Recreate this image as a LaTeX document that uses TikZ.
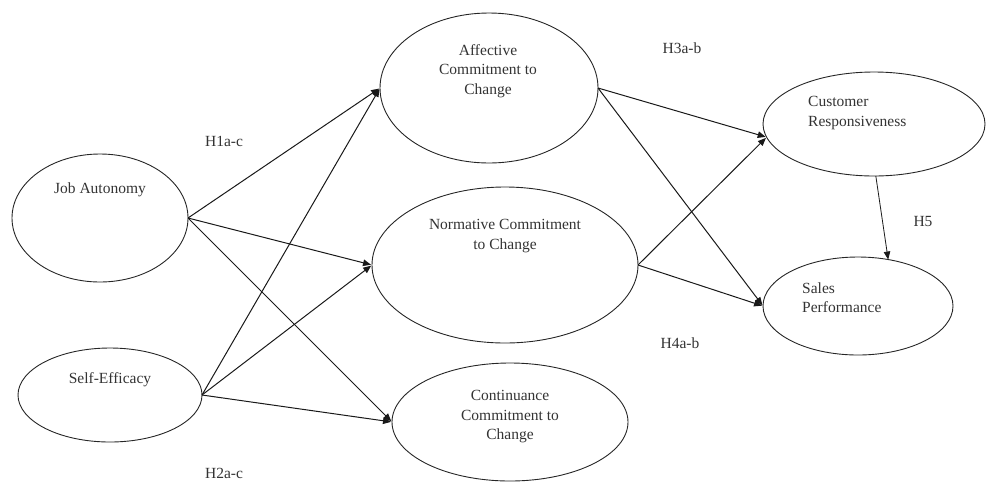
\documentclass[tikz,border=0pt]{standalone}
\usepackage{fontspec}
\setmainfont{Liberation Serif}
\usetikzlibrary{shapes.geometric,arrows.meta}
\begin{document}
\begin{tikzpicture}[x=1pt,y=-1pt,
  oval/.style={ellipse,draw=black!85,line width=0.9pt,inner sep=0pt,outer sep=0pt},
  txt/.style={text=black!80,font=\fontsize{15.5}{19.5}\selectfont,align=center,inner sep=0pt},
  hyp/.style={text=black!80,font=\fontsize{15.5}{19}\selectfont,inner sep=0pt},
  link/.style={draw=black!90,line width=1pt,-{Triangle[length=8pt,width=6.5pt]},shorten >=1pt}
]
\useasboundingbox (0,0) rectangle (987,483);
% ellipses
\node[oval,minimum width=176pt,minimum height=128pt] (ja) at (100,218) {};
\node[oval,minimum width=184pt,minimum height=94pt] (se) at (110,395) {};
\node[oval,minimum width=218pt,minimum height=150pt] (aff) at (489,88) {};
\node[oval,minimum width=266pt,minimum height=156pt] (norm) at (505,265) {};
\node[oval,minimum width=236pt,minimum height=118pt] (cont) at (510,422) {};
\node[oval,minimum width=222pt,minimum height=104pt] (cust) at (874,124) {};
\node[oval,minimum width=190pt,minimum height=98pt] (sales) at (858,306) {};
% texts
\node[txt] (tja) at (100,190) {Job Autonomy};
\node[txt] (tse) at (110,380) {Self-Efficacy};
\node[txt] (taff) at (488,71) {Affective\\Commitment to\\Change};
\node[txt] (tnorm) at (505,236) {Normative Commitment\\to Change};
\node[txt] (tcont) at (510,417) {Continuance\\Commitment to\\Change};
\node[txt,anchor=west,align=left] (tcust) at (808,113) {Customer\\Responsiveness};
\node[txt,anchor=west,align=left] (tsales) at (802,297.5) {Sales\\Performance};
% hypothesis labels
\node[hyp] (h1) at (224,141) {H1a-c};
\node[hyp] (h2) at (224,473) {H2a-c};
\node[hyp] (h3) at (682,48) {H3a-b};
\node[hyp] (h4) at (680,343) {H4a-b};
\node[hyp] (h5) at (923,221) {H5};
% connectors
\draw[link] (ja.east) -- (aff.west);
\draw[link] (ja.east) -- (norm.west);
\draw[link] (ja.east) -- (cont.west);
\draw[link] (se.east) -- (aff.west);
\draw[link] (se.east) -- (norm.west);
\draw[link] (se.east) -- (cont.west);
\draw[link] (aff.east) -- (cust.187);
\draw[link] (aff.east) -- (sales.west);
\draw[link] (norm.east) -- (cust.187);
\draw[link] (norm.east) -- (sales.west);
\draw[draw=black!90,line width=0.8pt,-{Triangle[length=8pt,width=6.5pt]}] (cust.272) -- (sales.57);
\end{tikzpicture}
\end{document}
